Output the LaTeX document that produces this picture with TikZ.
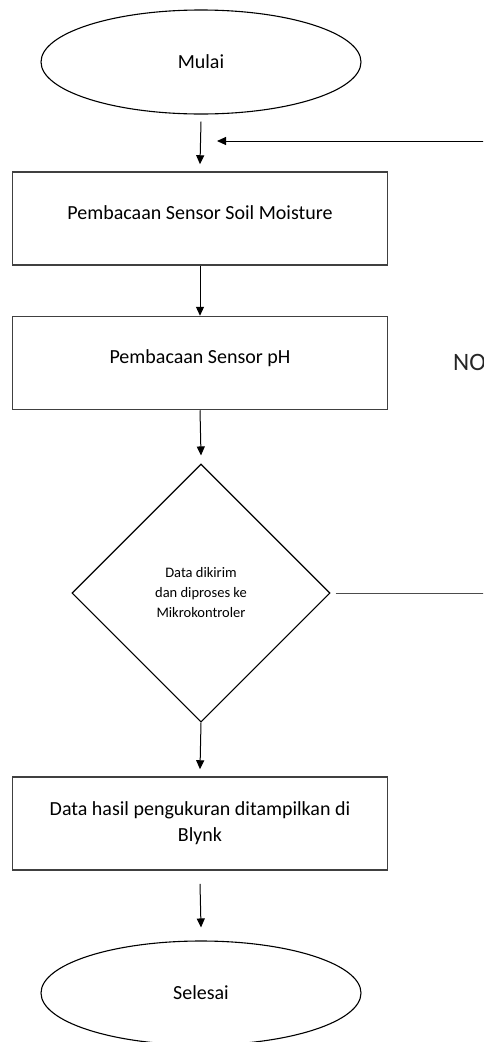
\documentclass[tikz,border=0pt]{standalone}
\usepackage{fontspec}
\setmainfont{Carlito}
\usetikzlibrary{shapes.geometric,arrows.meta}
\tikzset{
  line/.style={draw=black, line width=1pt},
  term/.style={ellipse, draw=black, line width=1.1pt, minimum width=320pt, minimum height=104pt, inner sep=0pt, font=\fontsize{20}{24}\selectfont},
  procbox/.style={rectangle, draw=black!75, line width=1.5pt, minimum width=375pt, minimum height=93pt, inner sep=0pt, align=center, font=\fontsize{20}{26}\selectfont},
  decision/.style={diamond, draw=black, line width=1.1pt, minimum width=258pt, minimum height=258pt, inner sep=0pt, align=center, font=\fontsize{14.5}{20}\selectfont},
  arr/.style={line, -{Triangle[length=9pt,width=8pt]}},
}
\begin{document}
\begin{tikzpicture}[x=1pt,y=-1pt]
\useasboundingbox (0,0) rectangle (483,1042);
\clip (0,0) rectangle (483,1042);
\node[term] (start) at (201,62) {Mulai};
\node[procbox] (soil) at (200,218.5) {\raisebox{12pt}{Pembacaan Sensor Soil Moisture}};
\node[procbox] (ph) at (200,363) {\raisebox{12pt}{Pembacaan Sensor pH}};
\node[decision] (dec) at (201,593) {\raisebox{6pt}{\begin{tabular}{@{}c@{}}Data dikirim\\dan diproses ke\\Mikrokontroler\end{tabular}}};
\node[procbox] (blynk) at (200,823.5) {\raisebox{14pt}{\begin{tabular}{@{}c@{}}Data hasil pengukuran ditampilkan di\\Blynk\end{tabular}}};
\node[term] (end) at (201,993) {Selesai};
\node[font=\fontsize{25}{30}\selectfont, anchor=west, inner sep=0pt, text=black!85] (no) at (453,362) {NO};
\coordinate (loopin) at (217,141);
\coordinate (loopright) at (500,141);
\coordinate (decright) at (500,593);
\draw[arr] ([yshift=-7pt]start.south) -- ([yshift=7pt]soil.north);
\draw[arr] (soil.south) -- (ph.north);
\draw[arr] (ph.south) -- ([yshift=8pt]dec.north);
\draw[arr] (dec.south) -- ([yshift=7pt]blynk.north);
\draw[arr] ([yshift=-13pt]blynk.south) -- ([yshift=13pt]end.north);
\draw[line, draw=black!70] ([xshift=5pt]dec.east) -- (decright);
\draw[arr] (loopright) -- (loopin);
\end{tikzpicture}
\end{document}
